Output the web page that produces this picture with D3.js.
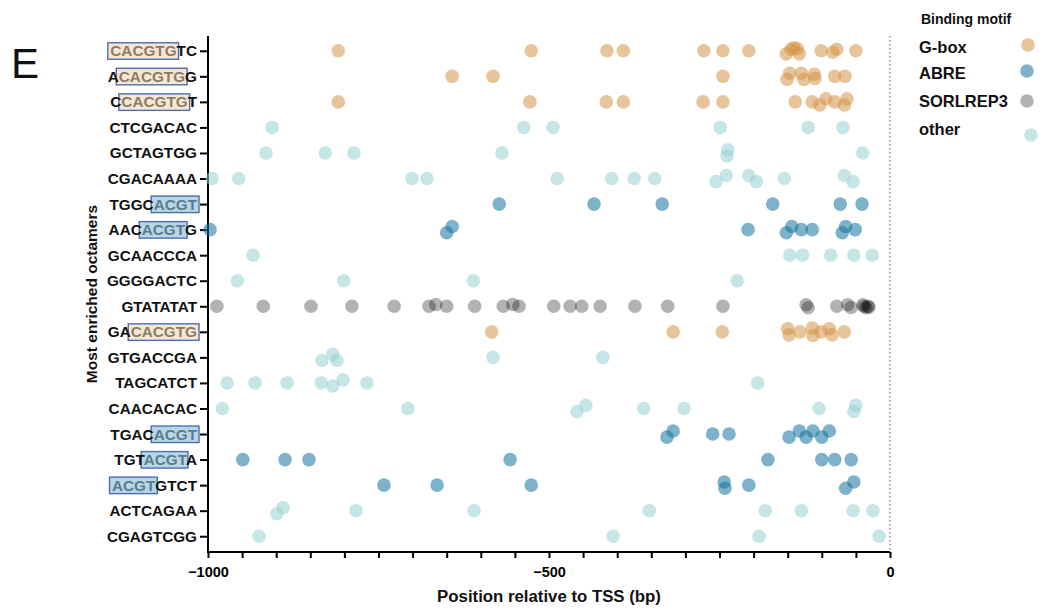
<!DOCTYPE html>
<html><head><meta charset="utf-8">
<script src="https://cdn.jsdelivr.net/npm/d3@7"></script>
<style>
body{margin:0;background:#fff;}
svg{display:block;}
</style></head>
<body><svg id="c" width="1043" height="610"></svg>
<script>
const octamers = ["CACGTGTC","ACACGTGG","CCACGTGT","CTCGACAC","GCTAGTGG","CGACAAAA","TGGCACGT","AACACGTG","GCAACCCA","GGGGACTC","GTATATAT","GACACGTG","GTGACCGA","TAGCATCT","CAACACAC","TGACACGT","TGTACGTA","ACGTGTCT","ACTCAGAA","CGAGTCGG"];
const motifType = ["G-box","G-box","G-box","other","other","other","ABRE","ABRE","other","other","SORLREP3","G-box","other","other","other","ABRE","ABRE","ABRE","other","other"];
const highlightStart = [0,1,1,-1,-1,-1,4,3,-1,-1,-1,2,-1,-1,-1,4,3,0,-1,-1];
const highlightLength = [6,6,6,0,0,0,4,4,0,0,0,6,0,0,0,4,4,4,0,0];
const legendItems = ["G-box","ABRE","SORLREP3","other"];
const xTickLabels = [-1000,-500,0];

// positions (bp relative to TSS) and small vertical jitter, one list per octamer
const positions = [
 [[-809,0],[-526,0],[-415,0],[-391,0],[-273,0],[-245,0],[-207,0],[-152,1],[-145,-0.5],[-141,-1],[-136,-0.7],[-133,1],[-101,0],[-84,0.5],[-78,-0.5],[-50,0]],
 [[-642,0],[-582,0],[-245,0],[-151,1],[-147,-1],[-130,-1],[-126,1],[-111,-0.7],[-110,0.7],[-81,0],[-66,0]],
 [[-809,0],[-528,0],[-416,0],[-391,0],[-274,0],[-245,0],[-139,0],[-114,0],[-103,1],[-94,-1],[-81,0],[-67,1],[-63,-1]],
 [[-906,0],[-537,0],[-494,0],[-249,0],[-120,0],[-69,0]],
 [[-915,0],[-828,0],[-786,0],[-569,0],[-238,-1],[-239,1],[-40,0]],
 [[-994,0],[-955,0],[-701,0],[-679,0],[-488,0],[-408,0],[-375,0],[-345,0],[-255,1],[-240,-1],[-207,-1],[-196,1],[-155,0],[-67,-1],[-54,1]],
 [[-573,0],[-434,0],[-334,0],[-172,0],[-73,0],[-41,0]],
 [[-997,0],[-650,1],[-642,-1],[-208,0],[-152,1],[-144,-1],[-130,0],[-114,0],[-70,1],[-65,-1],[-51,0]],
 [[-934,0],[-147,0],[-128,0],[-87,0],[-53,0],[-26,0]],
 [[-957,0],[-801,0],[-611,0],[-224,0]],
 [[-987,0],[-919,0],[-849,0],[-789,0],[-727,0],[-676,0],[-666,-0.6],[-650,0],[-609,0],[-567,0],[-553,-0.6],[-544,0],[-493,0],[-469,0],[-452,0],[-425,0],[-374,0],[-326,0],[-245,0],[-123,-0.5],[-120,0.5],[-78,0],[-62,-0.5],[-57,0.4],[-40,-0.5],[-38,0],[-35,0.5],[-32,0],[-31,0.3]],
 [[-584,0],[-318,0],[-246,0],[-150,-1],[-148,1],[-132,0],[-114,-1.2],[-113,1.2],[-101,0],[-89,-1],[-85,1],[-67,0]],
 [[-833,1],[-817,-1],[-811,1],[-582,0],[-421,0]],
 [[-972,0],[-931,0],[-884,0],[-834,0],[-817,1],[-802,-1],[-767,0],[-194,0]],
 [[-979,0],[-707,0],[-459,1],[-446,-1],[-361,0],[-302,0],[-104,0],[-53,1],[-50,-1]],
 [[-327,1],[-318,-1],[-260,0],[-236,0],[-148,1],[-133,-1],[-123,1],[-113,-1],[-100,1],[-89,-1]],
 [[-949,0],[-887,0],[-852,0],[-557,0],[-179,0],[-100,0],[-81,0],[-57,0]],
 [[-742,0],[-664,0],[-526,0],[-243,-1],[-242,1],[-207,0],[-65,1],[-53,-1]],
 [[-899,1],[-890,-1],[-783,0],[-610,0],[-353,0],[-183,0],[-130,0],[-54,0],[-25,0]],
 [[-925,0],[-406,0],[-192,0],[-16,0]]
];

const colors = {"G-box":"#D59447","ABRE":"#13739F","SORLREP3":"#000000","other":"#96D0D3"};
const alphas = {"G-box":0.55,"ABRE":0.55,"SORLREP3":0.3,"other":0.55};
const boxFill = {"G-box":"#F6E7D4","ABRE":"#B7D7E6"};
const boxText = {"G-box":"#8C7C68","ABRE":"#5A7D8E"};

const svg = d3.select("#c");
const x = d3.scaleLinear().domain([-1000,0]).range([208,890]);
const y = d3.scalePoint().domain(octamers).range([38,549]).padding(0.5);
const jit = y.step()*0.12;
const FONT = "'Liberation Sans', Arial, sans-serif";

// panel letter
svg.append("text").attr("x",11).attr("y",78).attr("font-family",FONT)
  .attr("font-size",42).attr("fill","#111").text("E");

// dotted zero line
svg.append("line").attr("x1",x(0)).attr("x2",x(0)).attr("y1",36).attr("y2",552)
  .attr("stroke","#777").attr("stroke-width",1.2).attr("stroke-dasharray","1.5,2.5");

// x axis
const xAxis = d3.axisBottom(x).tickValues(d3.range(-1000,1,50)).tickSize(6)
  .tickFormat(d => xTickLabels.includes(d) ? d3.format("d")(d) : "");
const gx = svg.append("g").attr("transform","translate(0,552)").call(xAxis);
gx.select(".domain").attr("stroke","#000").attr("stroke-width",2).attr("d","M208,0H890");
gx.selectAll(".tick line").attr("stroke","#000").attr("stroke-width",2);
gx.selectAll(".tick text").attr("font-family",FONT).attr("font-weight","bold")
  .attr("font-size",14.5).attr("fill","#000").attr("dy","0.9em").attr("y",12);

// y axis
const yAxis = d3.axisLeft(y).tickSize(8).tickFormat("");
const gy = svg.append("g").attr("transform","translate(208,0)").call(yAxis);
gy.select(".domain").attr("stroke","#000").attr("stroke-width",2).attr("d","M0,36V553");
gy.selectAll(".tick line").attr("stroke","#000").attr("stroke-width",2);

// y tick labels with motif boxes
const labelEnd = 197;
octamers.forEach((o,i) => {
  const cy = y(o);
  const g = svg.append("g");
  const t = g.append("text").attr("y",cy+5.5).attr("font-family",FONT)
    .attr("font-weight","bold").attr("font-size",15.3).attr("fill","#111");
  const s = highlightStart[i], L = highlightLength[i], tp = motifType[i];
  if (s >= 0) {
    if (s>0) t.append("tspan").text(o.slice(0,s));
    t.append("tspan").attr("fill",boxText[tp]).text(o.slice(s,s+L));
    if (s+L<o.length) t.append("tspan").text(o.slice(s+L));
  } else {
    t.text(o);
  }
  const total = t.node().getComputedTextLength();
  const x0 = labelEnd - total;
  t.attr("x",x0);
  if (s >= 0) {
    const pre = s>0 ? t.node().getSubStringLength(0,s) : 0;
    const w = t.node().getSubStringLength(s,L);
    g.insert("rect","text").attr("x",x0+pre-2.5).attr("y",cy-8).attr("width",w+4.5).attr("height",16.5)
      .attr("fill",boxFill[tp]).attr("stroke","#4E6DB3").attr("stroke-width",1.4);
  }
});

// axis titles
svg.append("text").attr("x",549).attr("y",602).attr("text-anchor","middle")
  .attr("font-family",FONT).attr("font-weight","bold").attr("font-size",16.8).attr("fill","#111")
  .text("Position relative to TSS (bp)");
svg.append("text").attr("transform","translate(97,294) rotate(-90)").attr("text-anchor","middle")
  .attr("font-family",FONT).attr("font-weight","bold").attr("font-size",15.5).attr("fill","#111")
  .text("Most enriched octamers");

// points
const pts = [];
positions.forEach((row,i) => row.forEach(p => pts.push({cat:octamers[i], type:motifType[i], bp:p[0], j:p[1]})));
svg.append("g").selectAll("circle").data(pts).join("circle")
  .attr("cx", d => x(d.bp)).attr("cy", d => y(d.cat) + d.j*jit).attr("r",6.8)
  .attr("fill", d => colors[d.type]).attr("fill-opacity", d => alphas[d.type]);

// legend
svg.append("text").attr("x",921).attr("y",24).attr("font-family",FONT).attr("font-weight","bold")
  .attr("font-size",14).attr("fill","#111").text("Binding motif");
const legY = [47,73,101,129];
const legDotX = [1028,1027,1027,1031];
const legDotDy = [-2,-2,0,6];
legendItems.forEach((k,i) => {
  svg.append("text").attr("x",919).attr("y",legY[i]+6).attr("font-family",FONT).attr("font-weight","bold")
    .attr("font-size",16.5).attr("fill","#111").text(k);
  svg.append("circle").attr("cx",legDotX[i]).attr("cy",legY[i]+legDotDy[i]).attr("r",6.8)
    .attr("fill",colors[k]).attr("fill-opacity",alphas[k]);
});
</script></body></html>
